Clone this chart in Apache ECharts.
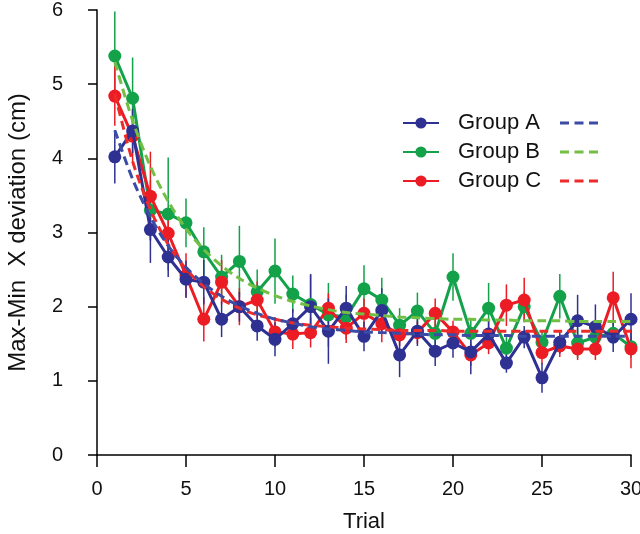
<!DOCTYPE html>
<html>
<head>
<meta charset="utf-8">
<script src="https://cdn.jsdelivr.net/npm/echarts@6/dist/echarts.min.js"></script>
<style>html,body{margin:0;padding:0;background:#fff}#c{width:640px;height:534px}</style>
</head>
<body>
<div id="c"></div>
<script>
var trials = [1,2,3,4,5,6,7,8,9,10,11,12,13,14,15,16,17,18,19,20,21,22,23,24,25,26,27,28,29,30];
var xTicks = [0,5,10,15,20,25,30];
var yTicks = [0,1,2,3,4,5,6];

var groupA = [4.02,4.37,3.04,2.67,2.37,2.33,1.83,2.00,1.74,1.56,1.77,2.00,1.67,1.98,1.60,1.95,1.35,1.67,1.40,1.51,1.39,1.63,1.24,1.59,1.04,1.52,1.81,1.73,1.59,1.83];
var groupB = [5.38,4.81,3.30,3.25,3.13,2.74,2.40,2.61,2.20,2.48,2.17,2.03,1.89,1.86,2.24,2.09,1.75,1.94,1.64,2.40,1.64,1.98,1.44,2.00,1.52,2.14,1.51,1.59,1.64,1.46];
var groupC = [4.84,4.30,3.49,2.99,2.42,1.83,2.33,2.00,2.09,1.66,1.63,1.65,1.98,1.71,1.91,1.77,1.62,1.65,1.91,1.66,1.35,1.51,2.02,2.09,1.38,1.47,1.43,1.43,2.12,1.43];

var errA = [0.36,0.30,0.45,0.27,0.25,0.30,0.24,0.20,0.20,0.23,0.20,0.44,0.44,0.30,0.20,0.30,0.30,0.20,0.20,0.20,0.30,0.20,0.13,0.15,0.20,0.15,0.35,0.30,0.20,0.35];
var errB = [0.60,0.55,0.40,0.76,0.33,0.33,0.30,0.48,0.30,0.44,0.25,0.40,0.43,0.30,0.32,0.30,0.23,0.25,0.20,0.32,0.20,0.34,0.15,0.20,0.15,0.30,0.20,0.15,0.15,0.15];
var errC = [0.40,0.35,0.60,0.30,0.30,0.30,0.30,0.25,0.25,0.20,0.20,0.20,0.20,0.20,0.20,0.25,0.15,0.15,0.20,0.15,0.15,0.15,0.28,0.30,0.15,0.15,0.15,0.15,0.35,0.26];

var fitA = [4.38,3.72,3.21,2.82,2.53,2.31,2.14,2.01,1.91,1.83,1.78,1.73,1.70,1.68,1.66,1.65,1.64,1.63,1.62,1.62,1.61,1.61,1.61,1.60,1.60,1.60,1.60,1.60,1.60,1.60];
var fitB = [5.30,4.51,3.89,3.42,3.05,2.77,2.55,2.38,2.25,2.15,2.07,2.01,1.96,1.92,1.90,1.88,1.86,1.85,1.84,1.83,1.83,1.82,1.82,1.81,1.81,1.81,1.80,1.80,1.80,1.80];
var fitC = [4.87,3.96,3.31,2.84,2.51,2.27,2.10,1.98,1.89,1.83,1.78,1.75,1.73,1.71,1.70,1.69,1.68,1.68,1.68,1.67,1.67,1.67,1.67,1.67,1.67,1.67,1.67,1.67,1.67,1.67];

var names = ['Group A','Group B','Group C'];
var solidColors = ['#2E3192','#13A14A','#EC1C24'];
var dashColors = ['#3B4BA6','#72BF44','#EE2B2B'];

var FONT = 'Liberation Sans, Arial, sans-serif';
var DASH_ICON = 'path://M0,0 L9,0 L9,3 L0,3 Z M14.5,0 L23.5,0 L23.5,3 L14.5,3 Z M29,0 L38,0 L38,3 L29,3 Z';

function pairs(vals){ return trials.map(function(t,i){ return [t, vals[i]]; }); }
function errData(vals, errs){ return trials.map(function(t,i){ return [t, vals[i]-errs[i], vals[i]+errs[i]]; }); }

function errSeries(vals, errs, color, z){
  return {
    type: 'custom', name: 'err', z: z, silent: true, clip: false,
    data: errData(vals, errs),
    encode: {x: 0, y: [1,2]},
    renderItem: function(params, api){
      var p1 = api.coord([api.value(0), api.value(1)]);
      var p2 = api.coord([api.value(0), api.value(2)]);
      return {type: 'line', shape: {x1: p1[0], y1: p1[1], x2: p2[0], y2: p2[1]},
              style: {stroke: color, lineWidth: 1.5}};
    }
  };
}
function solidSeries(name, vals, color, z){
  return {type: 'line', name: name, data: pairs(vals), z: z, clip: false,
    symbol: 'circle', symbolSize: 13, showSymbol: true,
    lineStyle: {color: color, width: 3}, itemStyle: {color: color},
    emphasis: {disabled: true}};
}
function fitSeries(name, vals, color, z){
  return {type: 'line', name: name, data: pairs(vals), z: z, clip: false,
    symbol: 'none', smooth: 0.3,
    lineStyle: {color: color, width: 3, type: [9,5]}, itemStyle: {color: color},
    emphasis: {disabled: true}};
}

var series = [
  errSeries(groupB, errB, solidColors[1], 1),
  errSeries(groupC, errC, solidColors[2], 1),
  errSeries(groupA, errA, solidColors[0], 1),
  solidSeries(names[1], groupB, solidColors[1], 2),
  solidSeries(names[2], groupC, solidColors[2], 3),
  solidSeries(names[0], groupA, solidColors[0], 4),
  fitSeries(names[1]+' fit', fitB, dashColors[1], 5),
  fitSeries(names[2]+' fit', fitC, dashColors[2], 5),
  fitSeries(names[0]+' fit', fitA, dashColors[0], 5)
];

var chart = echarts.init(document.getElementById('c'), null, {renderer: 'canvas'});
chart.setOption({
  animation: false,
  backgroundColor: '#fff',
  textStyle: {fontFamily: FONT},
  grid: {left: 97, right: 9, top: 10, bottom: 79, containLabel: false, outerBoundsMode: 'none'},
  legend: [
    {data: names, orient: 'vertical', left: 402, top: 112, padding: 0, itemWidth: 36, itemHeight: 14, itemGap: 7,
     textStyle: {fontSize: 22, color: '#111', fontFamily: FONT, padding: [0,0,0,14]}, selectedMode: false},
    {data: names.map(function(n){return {name: n+' fit', icon: DASH_ICON};}), orient: 'vertical', left: 560, top: 112, padding: 0,
     itemWidth: 38, itemHeight: 3, itemGap: 7,
     formatter: function(){ return ' '; }, textStyle: {fontSize: 22, fontFamily: FONT}, selectedMode: false}
  ],
  xAxis: {
    type: 'value', min: 0, max: 30, interval: 5,
    name: 'Trial', nameLocation: 'middle', nameGap: 56,
    nameTextStyle: {fontSize: 22, color: '#111', fontFamily: FONT},
    axisLine: {show: true, onZero: false, lineStyle: {color: '#000', width: 1.5}},
    axisTick: {show: true, length: 12, lineStyle: {color: '#000', width: 1.5}},
    axisLabel: {fontSize: 20, color: '#111', margin: 24, fontFamily: FONT,
      formatter: function(v){ return xTicks.indexOf(v) >= 0 ? String(v) : ''; }},
    splitLine: {show: false}
  },
  yAxis: {
    type: 'value', min: 0, max: 6, interval: 1, offset: 16,
    name: 'Max-Min  X deviation (cm)', nameLocation: 'middle', nameGap: 51, nameRotate: 90,
    nameTextStyle: {fontSize: 24, color: '#111', fontFamily: FONT},
    axisLine: {show: true, lineStyle: {color: '#000', width: 1.5}},
    axisTick: {show: true, length: 9, lineStyle: {color: '#000', width: 1.5}},
    axisLabel: {fontSize: 20, color: '#111', margin: 18, fontFamily: FONT,
      formatter: function(v){ return yTicks.indexOf(v) >= 0 ? String(v) : ''; }},
    splitLine: {show: false}
  },
  series: series
});
</script>
</body>
</html>
